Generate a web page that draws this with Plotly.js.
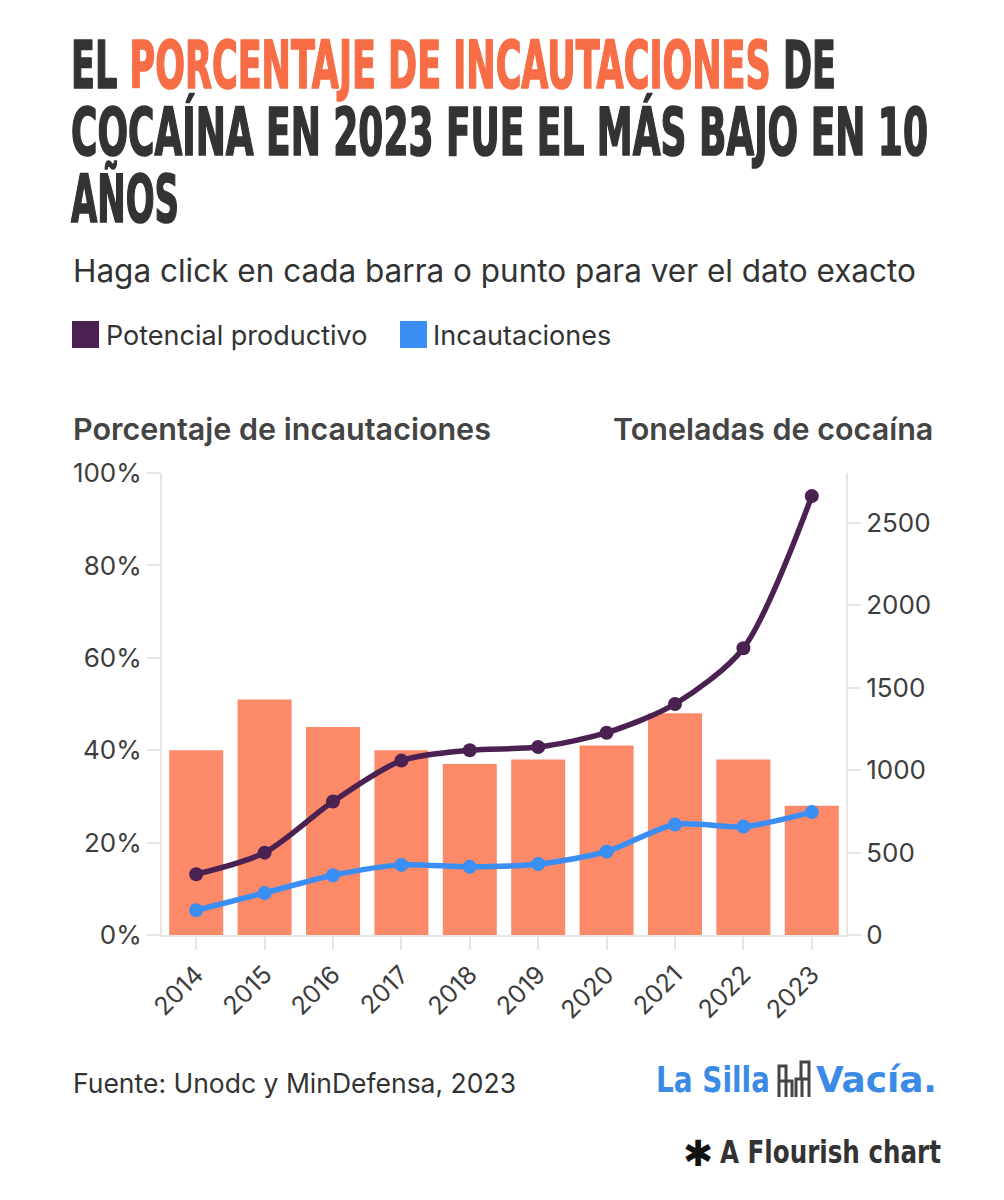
<!DOCTYPE html>
<html>
<head>
<meta charset="utf-8">
<script src="https://cdn.plot.ly/plotly-3.0.1.min.js"></script>
<style>
  html, body { margin: 0; padding: 0; background: #ffffff; }
  #chart { width: 1004px; height: 1200px; }
</style>
</head>
<body>
<div id="chart"></div>
<script>
// ---------------- data ----------------
const years = ['2014', '2015', '2016', '2017', '2018', '2019', '2020', '2021', '2022', '2023'];
const seizurePct = [40, 51, 45, 40, 37, 38, 41, 48, 38, 28];          // % (left axis, bars)
const potential = [368, 499, 809, 1057, 1120, 1139, 1226, 1400, 1738, 2660]; // t (right axis)
const seizures = [150, 255, 362, 425, 413, 430, 506, 670, 657, 745];         // t (right axis)
const seriesNames = ['Potencial productivo', 'Incautaciones'];
const leftTicks = [0, 20, 40, 60, 80, 100];
const rightTicks = [0, 500, 1000, 1500, 2000, 2500];

// ---------------- styling ----------------
const C_BAR = '#FC8A69';
const C_PURPLE = '#4B2152';
const C_BLUE = '#3A8EF4';
const C_ORANGE = '#F76D46';
const C_TEXT = '#333333';
const C_AXIS = '#E6E6E6';
const SANS = 'Inter, "Noto Sans", Roboto, sans-serif';
const NARROW = '"Liberation Sans Narrow", "DejaVu Sans Condensed", "Liberation Sans", sans-serif';

// plot area in page pixels
const L = 162, R = 846, T = 473, B = 935;
const px = x => (x - L) / (R - L);
const py = y => (B - y) / (B - T);

const traces = [
  {
    type: 'bar', x: years, y: seizurePct, yaxis: 'y', name: 'Porcentaje',
    marker: { color: C_BAR }, hoverinfo: 'x+y', showlegend: false
  },
  {
    type: 'scatter', mode: 'lines+markers', x: years, y: potential, yaxis: 'y2',
    name: seriesNames[0], line: { color: C_PURPLE, width: 5.5, shape: 'spline', smoothing: 0.8 },
    marker: { color: C_PURPLE, size: 14 }, showlegend: false
  },
  {
    type: 'scatter', mode: 'lines+markers', x: years, y: seizures, yaxis: 'y2',
    name: seriesNames[1], line: { color: C_BLUE, width: 5.5, shape: 'spline', smoothing: 0.8 },
    marker: { color: C_BLUE, size: 14 }, showlegend: false
  }
];

const titleFont = { family: NARROW, size: 60, color: C_TEXT, weight: 700 };
const logoFont = { family: NARROW, size: 34, color: '#3A8AE6', weight: 700 };
const flourishFont = { family: NARROW, size: 30, color: C_TEXT, weight: 700 };
const ann = [];
// 0..2 title lines (stretched after render)
['EL <span style="color:' + C_ORANGE + '">PORCENTAJE DE INCAUTACIONES</span> DE',
 'COCAÍNA EN 2023 FUE EL MÁS BAJO EN 10',
 'AÑOS'].forEach((t, i) => ann.push({
  text: t, x: px(72), y: py(65 + 66.5 * i), xref: 'paper', yref: 'paper',
  xanchor: 'left', yanchor: 'middle', showarrow: false, font: titleFont
}));

const base = { xref: 'paper', yref: 'paper', showarrow: false, yanchor: 'middle' };
// 3 subtitle
ann.push(Object.assign({}, base, { text: 'Haga click en cada barra o punto para ver el dato exacto', x: px(71), y: py(270), xanchor: 'left', font: { family: SANS, size: 31.5, color: C_TEXT, weight: 400 } }));
// 4,5 legend labels
ann.push(Object.assign({}, base, { text: seriesNames[0], x: px(104), y: py(335), xanchor: 'left', font: { family: SANS, size: 27, color: C_TEXT, weight: 400 } }));
ann.push(Object.assign({}, base, { text: seriesNames[1], x: px(431), y: py(335), xanchor: 'left', font: { family: SANS, size: 27, color: C_TEXT, weight: 400 } }));
// 6,7 axis titles
ann.push(Object.assign({}, base, { text: 'Porcentaje de incautaciones', x: px(71), y: py(429), xanchor: 'left', font: { family: SANS, size: 30.5, color: '#444444', weight: 600 } }));
ann.push(Object.assign({}, base, { text: 'Toneladas de cocaína', x: px(935), y: py(429), xanchor: 'right', font: { family: SANS, size: 30.5, color: '#444444', weight: 600 } }));
// 8 footer source
ann.push(Object.assign({}, base, { text: 'Fuente: Unodc y MinDefensa, 2023', x: px(71), y: py(1083), xanchor: 'left', font: { family: SANS, size: 26.5, color: C_TEXT, weight: 400 } }));
// 9,10 logo words (stretched after render)
ann.push(Object.assign({}, base, { text: 'La Silla', x: px(657), y: py(1080), xanchor: 'left', font: logoFont }));
ann.push(Object.assign({}, base, { text: 'Vacía.', x: px(815), y: py(1080), xanchor: 'left', font: logoFont }));
// 11 asterisk, 12 Flourish credit (stretched after render)
ann.push(Object.assign({}, base, { text: '✱', x: px(698), y: py(1153), xanchor: 'center', font: { family: '"DejaVu Sans", sans-serif', size: 36, color: '#111111' } }));
ann.push(Object.assign({}, base, { text: 'A Flourish chart', x: px(722), y: py(1152), xanchor: 'left', font: flourishFont }));

// stretch targets for condensed display text (page px)
const stretchTargets = {
  0: { left: 71, capTop: 41.7, baseline: 88.5, width: 765, size: titleFont.size, heavy: 1.6 },
  1: { left: 71, capTop: 108, baseline: 155, width: 857, size: titleFont.size, heavy: 1.6 },
  2: { left: 71, capTop: 175, baseline: 222, width: 108, size: titleFont.size, heavy: 1.6 },
  9: { left: 656, capTop: 1066, baseline: 1092, width: 114, size: logoFont.size },
  10: { left: 816, capTop: 1066, baseline: 1092, width: 121, size: logoFont.size },
  12: { left: 720, capTop: 1140, baseline: 1163, width: 221, size: flourishFont.size }
};

// legend squares and logo chairs
const shapes = [
  { type: 'rect', xref: 'paper', yref: 'paper', x0: px(72), x1: px(99), y0: py(348), y1: py(321), fillcolor: C_PURPLE, line: { width: 0 } },
  { type: 'rect', xref: 'paper', yref: 'paper', x0: px(400), x1: px(427), y0: py(348), y1: py(321), fillcolor: C_BLUE, line: { width: 0 } }
];
function pathPx(pts) { return pts.map((p, i) => (i ? 'L' : 'M') + px(p[0]) + ',' + py(p[1])).join(' '); }
const chairLine = { color: '#444444', width: 3 };
[
  [[779, 1097], [779, 1066], [786, 1066], [786, 1080]],
  [[779, 1081], [792, 1081], [792, 1097]],
  [[786, 1081], [786, 1097]],
  [[809, 1097], [809, 1062], [801, 1062], [801, 1079]],
  [[809, 1079], [796, 1079], [796, 1097]],
  [[802, 1079], [802, 1097]]
].forEach(p => shapes.push({ type: 'path', xref: 'paper', yref: 'paper', path: pathPx(p), line: chairLine }));

const tickFont = { family: SANS, size: 26, color: '#3D3D3D' };
const layout = {
  width: 1004, height: 1200,
  margin: { l: L, r: 1004 - R, t: T, b: 1200 - B, pad: 0 },
  paper_bgcolor: '#ffffff', plot_bgcolor: '#ffffff',
  bargap: 0.21,
  showlegend: false,
  hovermode: 'closest',
  xaxis: {
    type: 'category', range: [-0.5, 9.5], fixedrange: true,
    showgrid: false, zeroline: false,
    showline: true, linecolor: C_AXIS, linewidth: 2,
    ticks: 'outside', ticklen: 13, tickwidth: 2, tickcolor: C_AXIS,
    tickangle: -45, tickfont: { family: SANS, size: 25, color: '#3D3D3D' }
  },
  yaxis: {
    range: [0, 100], fixedrange: true,
    tickvals: leftTicks, ticktext: leftTicks.map(v => v + '%'),
    showgrid: false, zeroline: false,
    showline: true, linecolor: C_AXIS, linewidth: 2,
    ticks: 'outside', ticklen: 13, tickwidth: 2, tickcolor: C_AXIS,
    tickfont: tickFont
  },
  yaxis2: {
    overlaying: 'y', side: 'right', range: [0, 2800], fixedrange: true,
    tickvals: rightTicks, ticktext: rightTicks.map(String),
    showgrid: false, zeroline: false,
    showline: true, linecolor: C_AXIS, linewidth: 2,
    ticks: 'outside', ticklen: 13, tickwidth: 2, tickcolor: C_AXIS,
    tickfont: tickFont
  },
  annotations: ann,
  shapes: shapes
};

function stretchTexts(gd) {
  const groups = gd.querySelectorAll('g.annotation');
  groups.forEach(g => {
    const idx = parseInt(g.getAttribute('data-index'), 10);
    const tg = stretchTargets[idx];
    if (!tg) return;
    const t = g.querySelector('text.annotation-text');
    if (!t) return;
    const bb = t.getBBox();
    const ctm = t.parentNode.getScreenCTM();
    const ox = ctm.e, oy = ctm.f;
    const baseY = parseFloat(t.getAttribute('y'));
    const capH = 0.72 * tg.size;
    const sy = (tg.baseline - tg.capTop) / capH;
    const sx = tg.width / bb.width;
    const tx = tg.left - ox - sx * bb.x;
    const ty = tg.baseline - oy - sy * baseY;
    t.setAttribute('transform', 'matrix(' + sx + ',0,0,' + sy + ',' + tx + ',' + ty + ')');
    if (tg.heavy) {
      // thicken the display title strokes to mimic the heavy condensed face
      [t].concat(Array.from(t.querySelectorAll('tspan'))).forEach(el => {
        const fill = getComputedStyle(el).fill;
        el.style.stroke = fill;
        el.style.strokeWidth = tg.heavy + 'px';
        el.style.strokeLinejoin = 'round';
      });
    }
  });
}

const gd = document.getElementById('chart');
Plotly.newPlot(gd, traces, layout, { displayModeBar: false, responsive: false }).then(() => {
  stretchTexts(gd);
});
</script>
</body>
</html>
